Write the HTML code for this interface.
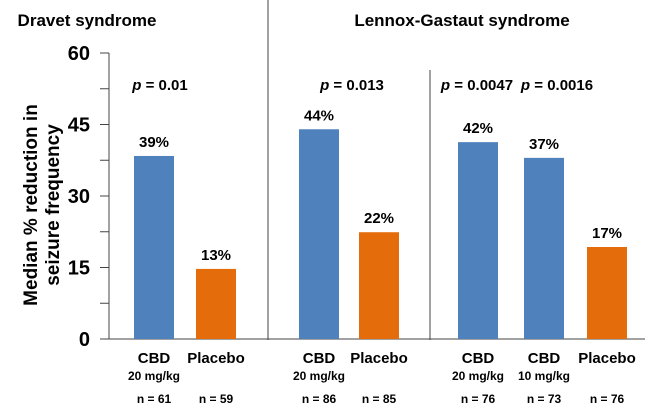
<!DOCTYPE html>
<html><head><meta charset="utf-8"><style>
body{margin:0;background:#fff}
svg{display:block;font-family:"Liberation Sans",Arial,sans-serif;font-weight:bold}
</style></head><body>
<svg id="c" width="653" height="418">
<text x="87" y="26" font-size="17" text-anchor="middle">Dravet syndrome</text>
<text x="462" y="26" font-size="17" text-anchor="middle">Lennox-Gastaut  syndrome</text>
<line x1="268" y1="0" x2="268" y2="340" stroke="#444" stroke-width="1"/>
<line x1="430" y1="70" x2="430" y2="340" stroke="#444" stroke-width="1"/>
<text transform="translate(37,205) rotate(-90)" font-size="19" text-anchor="middle">Median % reduction in</text>
<text transform="translate(59,205) rotate(-90)" font-size="19" text-anchor="middle">seizure frequency</text>
<g id="axis"></g><g id="bars"></g>
<text x="160" y="90" font-size="15" text-anchor="middle"><tspan font-style="italic">p</tspan> = 0.01</text>
<text x="352" y="90" font-size="15" text-anchor="middle"><tspan font-style="italic">p</tspan> = 0.013</text>
<text x="477" y="90" font-size="15" text-anchor="middle"><tspan font-style="italic">p</tspan> = 0.0047</text>
<text x="557" y="90" font-size="15" text-anchor="middle"><tspan font-style="italic">p</tspan> = 0.0016</text>
</svg>
<script>
const categories=["CBD","Placebo","CBD","Placebo","CBD","CBD","Placebo"];
const doses=["20 mg/kg","","20 mg/kg","","20 mg/kg","10 mg/kg",""];
const nLabels=["n = 61","n = 59","n = 86","n = 85","n = 76","n = 73","n = 76"];
const values=[38.4,14.7,44,22.4,41.3,38,19.3];
const valueLabels=["39%","13%","44%","22%","42%","37%","17%"];
const ticks=[0,15,30,45,60];
const NS="http://www.w3.org/2000/svg";
const y0=339,y60=53;
const y=v=>y0-(y0-y60)*v/60;
const centers=[154,216,319,379,478,544,607];
const bw=40;
function mk(t,a,p){const e=document.createElementNS(NS,t);for(const k in a)e.setAttribute(k,a[k]);p.appendChild(e);return e;}
const ax=document.getElementById('axis');
let l=mk('line',{x1:109,y1:y60,x2:109,y2:y0,stroke:'#444'},ax);


l=mk('line',{x1:109,y1:y0,x2:645,y2:y0,stroke:'#444'},ax);


for(let v=0;v<=60;v+=7.5){const t=mk('line',{x1:100,y1:y(v),x2:109,y2:y(v),stroke:'#444'},ax);

}
ticks.forEach(v=>{const t=mk('text',{x:90,y:y(v)+7,'font-size':20,'text-anchor':'end'},ax);t.textContent=v;

});
const bg=document.getElementById('bars');
values.forEach((v,i)=>{
 const col=categories[i]==="CBD"?"#4f81bd":"#e46c0a";
 const r=mk('rect',{x:centers[i]-bw/2,y:y(v),width:bw,height:y0-y(v),fill:col},bg);
 
 
 const t=mk('text',{x:centers[i],y:y(v)-9,'font-size':15,'text-anchor':'middle'},bg);t.textContent=valueLabels[i];
 
 
 const c=mk('text',{x:centers[i],y:363,'font-size':15,'text-anchor':'middle'},bg);c.textContent=categories[i];
 
 
 if(doses[i]){const d=mk('text',{x:centers[i],y:380,'font-size':12,'text-anchor':'middle'},bg);d.textContent=doses[i];
 
 }
 const n=mk('text',{x:centers[i],y:403,'font-size':12,'text-anchor':'middle'},bg);n.textContent=nLabels[i];
 
 
});
</script>
</body></html>
